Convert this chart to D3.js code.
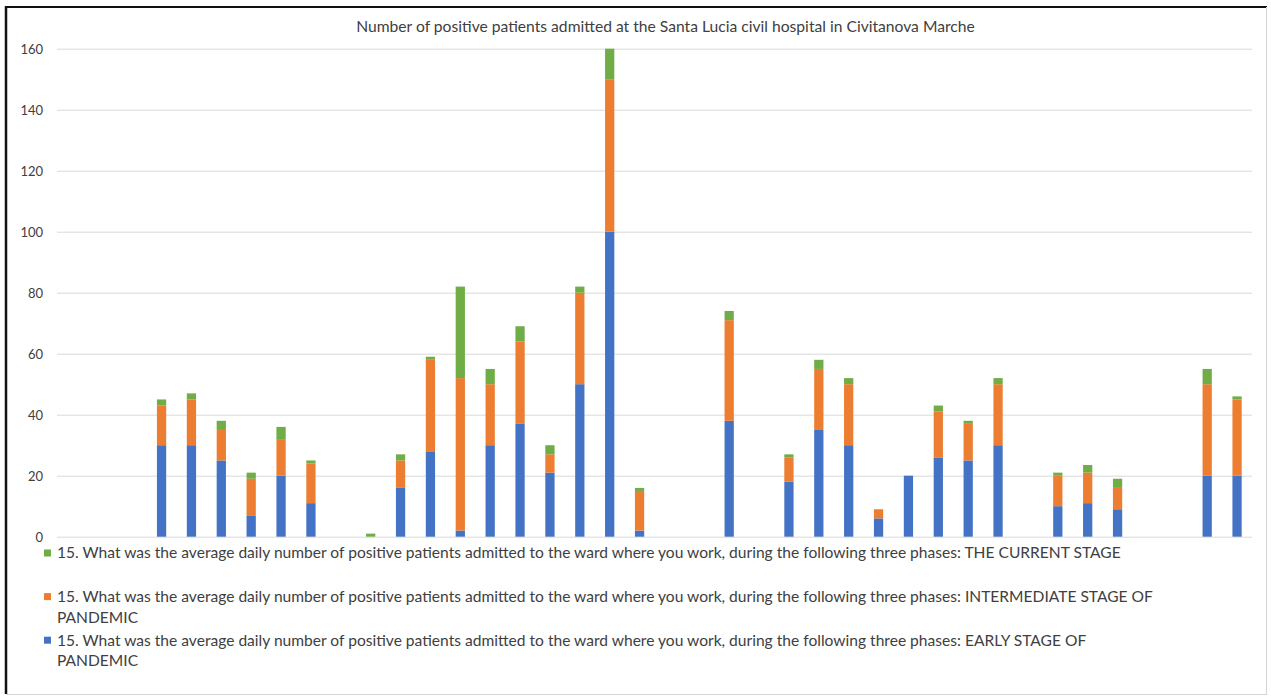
<!DOCTYPE html>
<html>
<head>
<meta charset="utf-8">
<script src="https://cdn.jsdelivr.net/npm/d3@7"></script>
<style>
  html, body { margin: 0; padding: 0; background: #ffffff; }
  svg { display: block; }
  text { font-family: Lato, "Open Sans", sans-serif; fill: #404040; }
</style>
</head>
<body>
<svg id="chart" width="1271" height="696"></svg>
<script>
// Respondents (one bar each) and their answers for the three pandemic phases
const respondents = d3.range(1, 41).map(String);
const earlyStage = [0,0,0,30,30,25,7,20,11,0,0,16,28,2,30,37,21,50,100,2,0,0,38,0,18,35,30,6,20,26,25,30,0,10,11,9,0,0,20,20];
const intermediateStage = [0,0,0,13,15,10,12,12,13,0,0,9,30,50,20,27,6,30,50,13,0,0,33,0,8,20,20,3,0,15,12,20,0,10,10,7,0,0,30,25];
const currentStage = [0,0,0,2,2,3,2,4,1,0,1,2,1,30,5,5,3,2,10,1,0,0,3,0,1,3,2,0,0,2,1,2,0,1,2.5,3,0,0,5,1];
const yTicks = [0,20,40,60,80,100,120,140,160];

const question = "15. What was the average daily number of positive patients admitted to the ward where you work, during the following three phases: ";
const seriesNames = [
  question + "EARLY STAGE OF PANDEMIC",
  question + "INTERMEDIATE STAGE OF PANDEMIC",
  question + "THE CURRENT STAGE"
];
const seriesColors = ["#4472C4", "#ED7D31", "#70AD47"];
const titleText = "Number of positive patients admitted at the Santa Lucia civil hospital in Civitanova Marche";

const svg = d3.select("#chart");
const W = 1271, H = 696;

// Frame around the chart
svg.append("rect").attr("x", 0).attr("y", 0).attr("width", W).attr("height", H).attr("fill", "#fff");
svg.append("line").attr("x1", 6).attr("x2", 6).attr("y1", 6).attr("y2", 694).attr("stroke", "#111").attr("stroke-width", 2.5);
svg.append("line").attr("x1", 5).attr("x2", 1267).attr("y1", 7).attr("y2", 7).attr("stroke", "#111").attr("stroke-width", 2);
svg.append("line").attr("x1", 1266.5).attr("x2", 1266.5).attr("y1", 7).attr("y2", 694).attr("stroke", "#d4d4d4").attr("stroke-width", 1);
svg.append("line").attr("x1", 6).attr("x2", 1267).attr("y1", 694.5).attr("y2", 694.5).attr("stroke", "#d4d4d4").attr("stroke-width", 1);

const plot = { left: 57, right: 1252, top: 48.7, bottom: 536.7 };

const x = d3.scaleBand()
  .domain(respondents)
  .range([plot.left, plot.right])
  .paddingInner(0.69)
  .paddingOuter(0.345);

const y = d3.scaleLinear().domain([0, 160]).range([plot.bottom, plot.top]);

// Gridlines and value labels
const yAxis = d3.axisLeft(y).tickValues(yTicks).tickSize(-(plot.right - plot.left)).tickPadding(14);
const gy = svg.append("g").attr("transform", `translate(${plot.left},0)`).call(yAxis);
gy.select(".domain").remove();
gy.selectAll(".tick line").attr("stroke", "#d9d9d9").attr("stroke-width", 1);
gy.selectAll(".tick text").attr("fill", "#404040").style("font-size", "13px").attr("dy", "0.34em");

// Stacked bars
const rows = respondents.map((r, i) => ({
  respondent: r, early: earlyStage[i], intermediate: intermediateStage[i], current: currentStage[i]
}));
const keys = ["early", "intermediate", "current"];
const stacked = d3.stack().keys(keys)(rows);

svg.append("g").selectAll("g")
  .data(stacked)
  .join("g")
  .attr("fill", (d, i) => seriesColors[i])
  .selectAll("rect")
  .data(d => d.filter(s => s[1] - s[0] > 0))
  .join("rect")
  .attr("x", d => x(d.data.respondent))
  .attr("width", x.bandwidth())
  .attr("y", d => y(d[1]))
  .attr("height", d => y(d[0]) - y(d[1]));

// Scale a text element's font so it spans the given width
function fitFont(textSel, baseSize, targetWidth) {
  textSel.style("font-size", baseSize + "px");
  const w = textSel.node().getComputedTextLength();
  const size = baseSize * targetWidth / w;
  textSel.style("font-size", size + "px");
  return size;
}

// Title
const title = svg.append("text")
  .attr("x", 665.5).attr("y", 27)
  .attr("text-anchor", "middle")
  .attr("dy", "0.35em")
  .text(titleText);
fitFont(title, 13, 619);

// Legend (top entry is the topmost stack segment)
const legendOrder = [2, 1, 0];
const legendTop = 553, legendStep = 43.6, lineStep = 20.5;
const textX = 57, wrapWidth = 1112;

const probe = svg.append("text").attr("x", textX).attr("y", -100).text(seriesNames[2]);
const legendSize = fitFont(probe, 14, 1065);
probe.remove();

legendOrder.forEach((si, row) => {
  const cy = legendTop + row * legendStep;
  svg.append("rect")
    .attr("x", 44).attr("y", cy - 3.5)
    .attr("width", 7).attr("height", 7)
    .attr("fill", seriesColors[si]);

  const t = svg.append("text")
    .attr("x", textX).attr("y", cy)
    .attr("dy", "0.35em")
    .style("font-size", legendSize + "px");

  // word wrap
  const words = seriesNames[si].split(" ");
  let line = [];
  let lineNo = 0;
  let tspan = t.append("tspan").attr("x", textX).attr("y", cy).attr("dy", "0.35em");
  words.forEach(wd => {
    line.push(wd);
    tspan.text(line.join(" "));
    if (tspan.node().getComputedTextLength() > wrapWidth && line.length > 1) {
      line.pop();
      tspan.text(line.join(" "));
      line = [wd];
      lineNo += 1;
      tspan = t.append("tspan").attr("x", textX).attr("y", cy + lineNo * lineStep).attr("dy", "0.35em").text(wd);
    }
  });
});
</script>
</body>
</html>
